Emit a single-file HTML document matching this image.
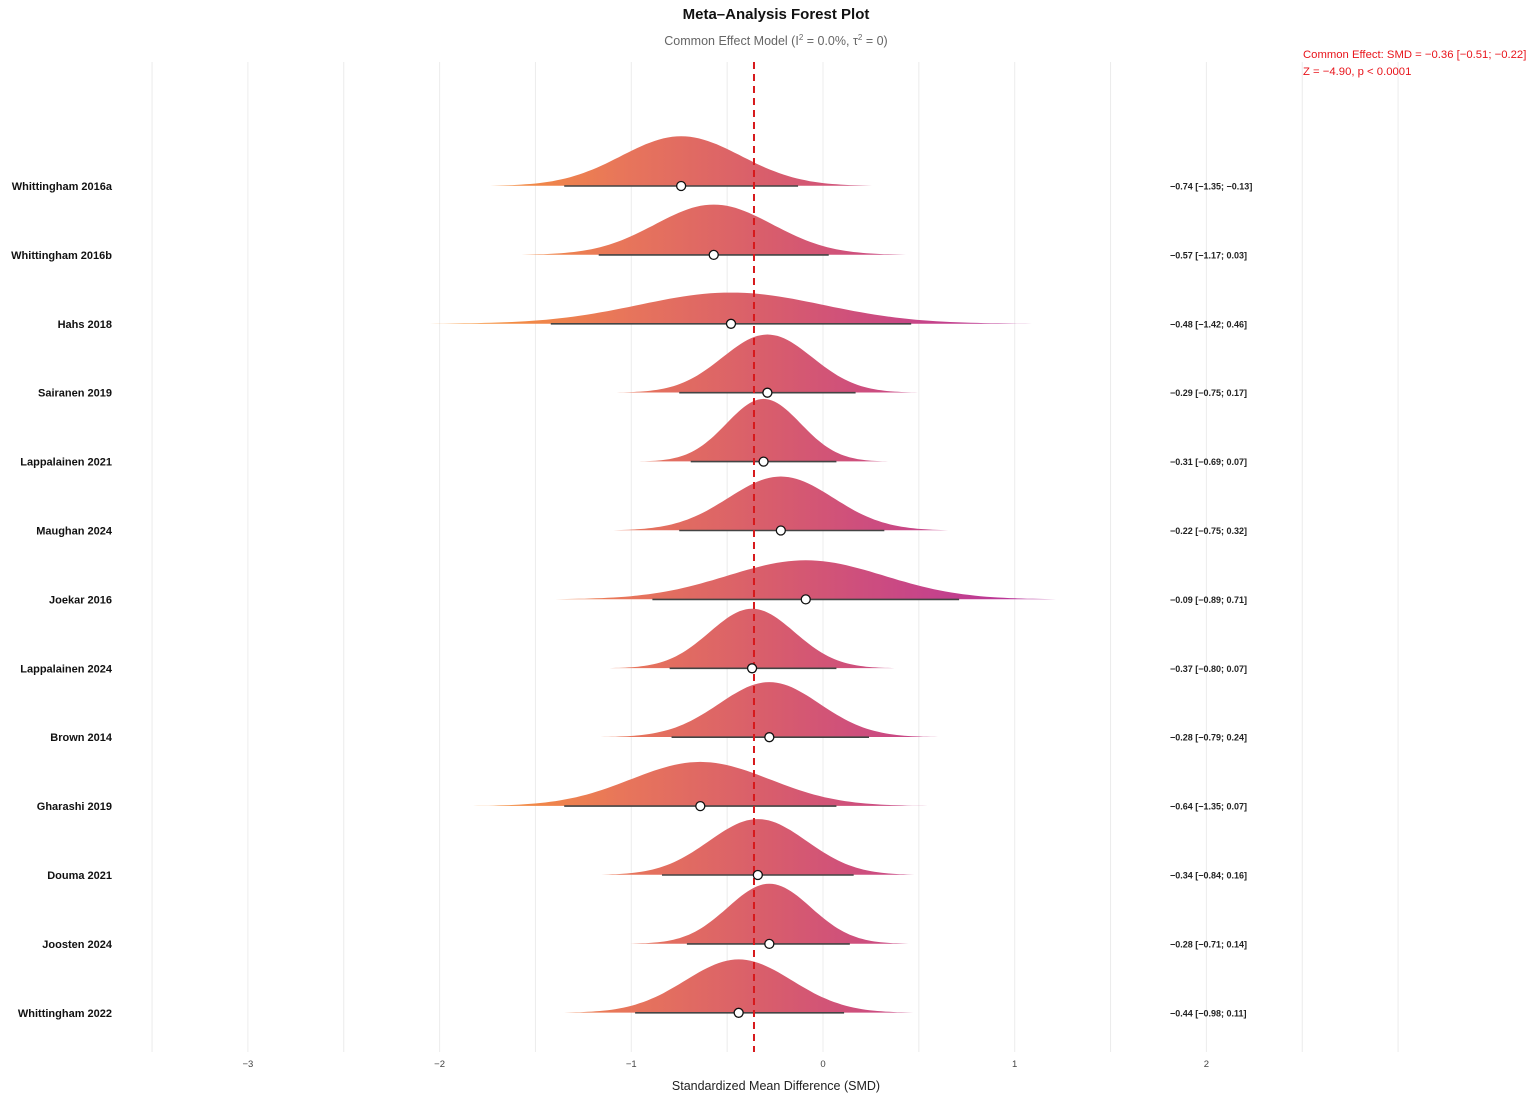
<!DOCTYPE html>
<html><head><meta charset="utf-8"><style>
html,body{margin:0;padding:0;background:#fff;}
svg{display:block;font-family:"Liberation Sans",Arial,sans-serif;}
</style></head><body>
<svg id="chart" width="1535" height="1102" viewBox="0 0 1535 1102">
<defs>
<linearGradient id="grad" gradientUnits="userSpaceOnUse" x1="470" y1="0" x2="1070" y2="0">
<stop offset="0" stop-color="#f7943a"/>
<stop offset="0.25" stop-color="#e8765a"/>
<stop offset="0.5" stop-color="#d85d6c"/>
<stop offset="0.75" stop-color="#c74588"/>
<stop offset="1" stop-color="#b02ca2"/>
</linearGradient>
</defs>
<g id="grid"></g>
<g id="ridges"></g>
<text x="776" y="19" text-anchor="middle" font-size="15" font-weight="bold" fill="#111">Meta–Analysis Forest Plot</text>
<text x="776" y="45" text-anchor="middle" font-size="12.5" fill="#666">Common Effect Model (I<tspan font-size="8" dy="-5">2</tspan><tspan dy="5"> = 0.0%, τ</tspan><tspan font-size="8" dy="-5">2</tspan><tspan dy="5"> = 0)</tspan></text>
<text x="1303" y="58" font-size="11.3" fill="#e8141b">Common Effect: SMD = −0.36 [−0.51; −0.22]</text>
<text x="1303" y="75" font-size="11.3" fill="#e8141b">Z = −4.90, p &lt; 0.0001</text>
<text x="776" y="1090" text-anchor="middle" font-size="12.5" fill="#222">Standardized Mean Difference (SMD)</text>
</svg>
<script>
const studies=["Whittingham 2016a","Whittingham 2016b","Hahs 2018","Sairanen 2019","Lappalainen 2021","Maughan 2024","Joekar 2016","Lappalainen 2024","Brown 2014","Gharashi 2019","Douma 2021","Joosten 2024","Whittingham 2022"];
const smd=[-0.74,-0.57,-0.48,-0.29,-0.31,-0.22,-0.09,-0.37,-0.28,-0.64,-0.34,-0.28,-0.44];
const lower=[-1.35,-1.17,-1.42,-0.75,-0.69,-0.75,-0.89,-0.80,-0.79,-1.35,-0.84,-0.71,-0.98];
const upper=[-0.13,0.03,0.46,0.17,0.07,0.32,0.71,0.07,0.24,0.07,0.16,0.14,0.11];
const ciLabels=["−0.74 [−1.35; −0.13]","−0.57 [−1.17; 0.03]","−0.48 [−1.42; 0.46]","−0.29 [−0.75; 0.17]","−0.31 [−0.69; 0.07]","−0.22 [−0.75; 0.32]","−0.09 [−0.89; 0.71]","−0.37 [−0.80; 0.07]","−0.28 [−0.79; 0.24]","−0.64 [−1.35; 0.07]","−0.34 [−0.84; 0.16]","−0.28 [−0.71; 0.14]","−0.44 [−0.98; 0.11]"];
const pooled=-0.36;
const xTicks=[-3,-2,-1,0,1,2];
const gridVals=[-3.5,-3,-2.5,-2,-1.5,-1,-0.5,0,0.5,1,1.5,2,2.5,3];

const NS="http://www.w3.org/2000/svg";
const X=v=>823+v*191.7;
const Y=i=>186+i*68.9;
function mk(tag,attrs,parent){const e=document.createElementNS(NS,tag);for(const k in attrs)e.setAttribute(k,attrs[k]);parent.appendChild(e);return e;}
const grid=document.getElementById('grid');
const ridges=document.getElementById('ridges');

gridVals.forEach(v=>{
  const l=mk('line',{x1:X(v),x2:X(v),y1:62,y2:1052,stroke:'#ececec','stroke-width':1},grid);
  
  
});
xTicks.forEach(v=>{
  const t=mk('text',{x:X(v),y:1067,'text-anchor':'middle','font-size':9.5,fill:'#444'},grid);
  t.textContent=v<0?'−'+Math.abs(v):String(v);
  
  
});

studies.forEach((s,i)=>{
  const se=(upper[i]-lower[i])/3.92;
  const h=84-110*se;
  const y0=Y(i);
  let d='';
  const n=90;
  const zr=3.35;
  for(let k=0;k<=n;k++){
    const z=-zr+2*zr*k/n;
    const v=smd[i]+z*se;
    const py=y0-h*Math.exp(-z*z/2);
    d+=(k?'L':'M')+X(v).toFixed(1)+','+py.toFixed(1);
  }
  d+='Z';
  const p=mk('path',{d:d,fill:'url(#grad)',stroke:'none'},ridges);
  
  
  const ci=mk('line',{x1:X(lower[i]),x2:X(upper[i]),y1:y0,y2:y0,stroke:'#444','stroke-width':1.6},ridges);
  
  
  const lab=mk('text',{x:112,y:y0+4,'text-anchor':'end','font-size':11,'font-weight':'bold',fill:'#111'},ridges);
  lab.textContent=s;
  
  
  const ct=mk('text',{x:1170,y:y0+3.5,'font-size':9,'font-weight':'bold',fill:'#222'},ridges);
  ct.textContent=ciLabels[i];
  
  
});
const pl=mk('line',{x1:X(pooled),x2:X(pooled),y1:62,y2:1052,stroke:'#d7191c','stroke-width':2,'stroke-dasharray':'7,5'},ridges);


studies.forEach((s,i)=>{
  const c=mk('circle',{cx:X(smd[i]),cy:Y(i),r:4.5,fill:'#fff',stroke:'#111','stroke-width':1.3},ridges);
  
  
});
</script>
</body></html>
